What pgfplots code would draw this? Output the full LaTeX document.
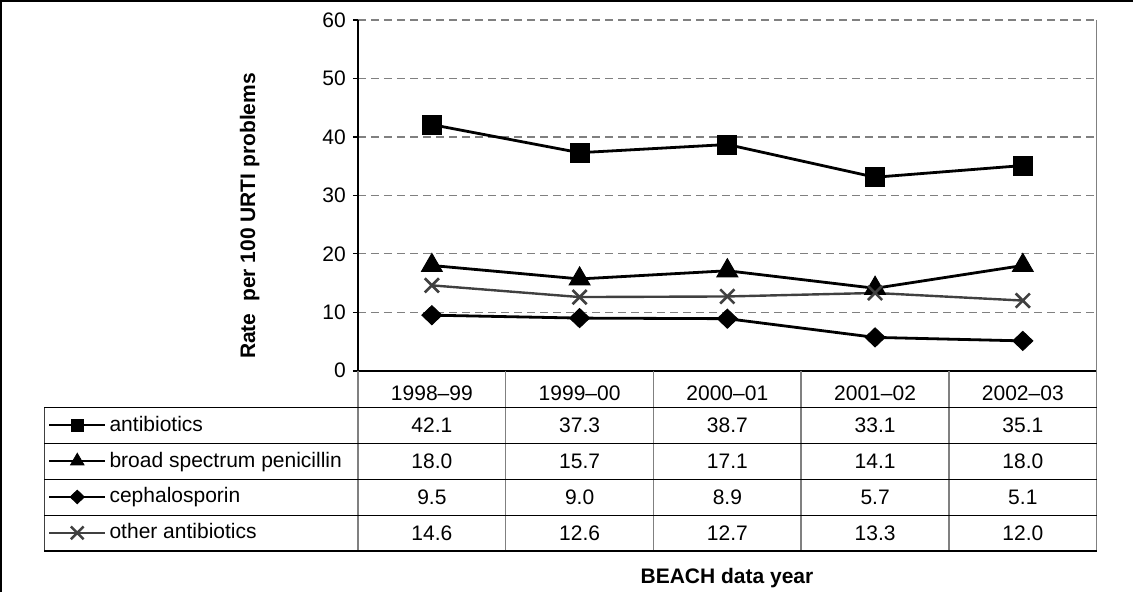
\documentclass[border=0pt]{standalone}
\usepackage{pgfplots}
\pgfplotsset{compat=1.18}
\usepackage{pgfplotstable}
\usepackage{fontspec}
\setmainfont{Liberation Sans}

\definecolor{gridgray}{HTML}{808080}
\definecolor{othergray}{HTML}{404040}

% Rate per 100 URTI problems, by BEACH data year
\pgfplotstableread{
idx antib broad ceph other
0 42.1 18.0 9.5 14.6
1 37.3 15.7 9.0 12.6
2 38.7 17.1 8.9 12.7
3 33.1 14.1 5.7 13.3
4 35.1 18.0 5.1 12.0
}\ratetable

\begin{document}
\fontsize{21}{25}\selectfont
\begin{tikzpicture}[x=1pt,y=1pt]
\useasboundingbox (0pt,0pt) rectangle (1133pt,592pt);
% outer frame
\draw[line width=1.5pt] (1pt,0pt) -- (1pt,591pt) -- (1133pt,591pt);

\begin{axis}[
  at={(358pt,221.3pt)}, anchor=south west,
  scale only axis, width=738.7pt, height=350.7pt,
  xmin=-0.5, xmax=4.5, ymin=0, ymax=60,
  xtick={0,...,4},
  xticklabels={1998--99,1999--00,2000--01,2001--02,2002--03},
  ytick={0,10,...,60},
  ytick pos=left,
  axis line style={draw=none},
  tick align=outside,
  major tick length=5pt,
  x tick style={draw=none},
  y tick style={black, line width=1.2pt},
  ymajorgrids,
  grid style={gridgray, line width=1.3pt, dash pattern=on 8pt off 5pt},
  xticklabel style={anchor=center, yshift=-18pt},
  /pgf/number format/assume math mode=true,
  clip=false,
  legend cell align=left,
  legend style={at={(axis description cs:-0.4197,-0.1041)}, anchor=north west,
    draw=none, fill=none, inner sep=0pt, outer sep=0pt,
    row sep=0pt, column sep=3pt,
    nodes={inner sep=0pt, minimum height=35.9pt, text height=15pt, text depth=3pt}},
  legend image code/.code={%
    \draw[mark repeat=2,mark phase=2,#1] plot coordinates {(0pt,0pt) (28pt,0pt) (56pt,0pt)};},
]
\addplot[black, line width=2.8pt, mark=square*, mark size=9.5pt,
  mark options={solid, line width=1pt}, forget plot] table[x=idx,y=antib]{\ratetable};
\addplot[black, line width=2.8pt, mark=triangle*, mark size=12pt,
  mark options={solid, line width=1pt}, forget plot] table[x=idx,y=broad]{\ratetable};
\addplot[black, line width=2.8pt, mark=diamond*, mark size=9.5pt,
  mark options={solid, line width=1pt, xscale=1.4}, forget plot] table[x=idx,y=ceph]{\ratetable};
\addplot[othergray, line width=2.4pt, mark=x, mark size=10pt,
  mark options={solid, line width=2.6pt}, forget plot] table[x=idx,y=other]{\ratetable};

\addlegendimage{black, line width=2.6pt, mark=square*, mark size=6.2pt, mark options={line width=0.8pt}}
\addlegendentry{antibiotics}
\addlegendimage{black, line width=2.6pt, mark=triangle*, mark size=7.8pt, mark options={line width=0.8pt}}
\addlegendentry{broad spectrum penicillin}
\addlegendimage{black, line width=2.6pt, mark=diamond*, mark size=6.8pt, mark options={line width=0.8pt, xscale=1.4}}
\addlegendentry{cephalosporin}
\addlegendimage{othergray, line width=2.4pt, mark=x, mark size=9pt, mark options={line width=2.4pt}}
\addlegendentry{other antibiotics}
\end{axis}

% axis frame
\draw[line width=2pt] (358pt,221.3pt) -- (358pt,572pt);
\draw[line width=2pt] (353pt,221.3pt) -- (1096.7pt,221.3pt);
\draw[gridgray, line width=1.5pt] (1096.7pt,572pt) -- (1096.7pt,40.9pt);

% data table grid
\foreach \k in {0,...,4}
  \draw[gridgray, line width=1.5pt] ({358pt+147.74pt*\k},221.3pt) -- ({358pt+147.74pt*\k},40.9pt);
\draw[othergray, line width=1.3pt] (44.3pt,184.5pt) -- (44.3pt,40.9pt);
\foreach \yy in {184.5,148.6,112.7,76.8,40.9}
  \draw[black, line width=1.3pt] (44.3pt,\yy pt) -- (1096.7pt,\yy pt);

% data table values
\foreach \col [count=\r from 0] in {antib,broad,ceph,other}{
  \foreach \i in {0,...,4}{
    \pgfplotstablegetelem{\i}{\col}\of\ratetable
    \node at ({358pt+147.74pt*(\i+0.5)},{166.6pt-35.9pt*\r})
      {\pgfmathprintnumber[fixed,fixed zerofill,precision=1,assume math mode=true]{\pgfplotsretval}};
  }
}

% axis titles
\node[rotate=90, anchor=base, font=\bfseries] at (255pt,376pt) {Rate\ \ per 100 URTI problems};
\node[anchor=base, font=\bfseries] at (727pt,9pt) {BEACH data year};
\end{tikzpicture}
\end{document}
